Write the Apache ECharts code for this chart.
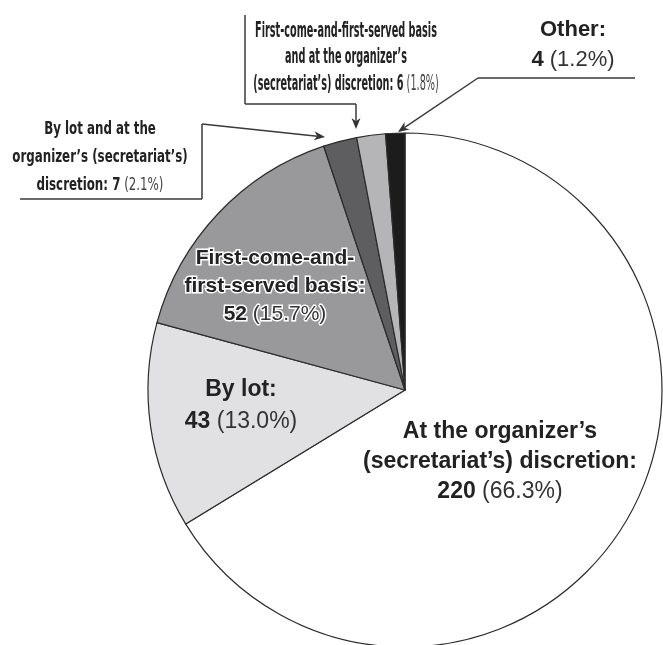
<!DOCTYPE html>
<html><head><meta charset="utf-8">
<script src="https://cdn.jsdelivr.net/npm/echarts@6/dist/echarts.min.js"></script>
<style>html,body{margin:0;padding:0;background:#fff}#c{width:663px;height:645px}</style>
</head><body><div id="c"></div>
<script>
// ---- data ----
const categories = [
  "At the organizer’s\n(secretariat’s) discretion:",
  "By lot:",
  "First-come-and-\nfirst-served basis:",
  "By lot and at the\norganizer’s (secretariat’s)\ndiscretion:",
  "First-come-and-first-served basis\nand at the organizer’s\n(secretariat’s) discretion:",
  "Other:"
];
const counts = [220, 43, 52, 7, 6, 4];

// ---- styling / layout (not data) ----
const sliceColors = ['#ffffff', '#e1e1e3', '#99999c', '#5e5e60', '#b5b5b7', '#1c1c1c'];
const labelCenters = [[500, 462], [241, 406], [275, 286], [100, 157], [346, 58], [573, 45]];
const labelSizes = [23, 23, 21, 0, 0, 22];
const labelLineHeights = [30, 32, 28, 0, 0, 30];
const calloutIdx = [3, 4];
const calloutScale = { 3: [0.94, 1.25, 22.4], 4: [0.77, 1.47, 18] };

const total = counts.reduce((a, b) => a + b, 0);
const pct = v => (v / total * 100).toFixed(1);
const FONT = '"Liberation Sans", Arial, sans-serif';
const NARROW = '"Liberation Sans Narrow", "DejaVu Sans Condensed", sans-serif';

function richFor(i) {
  const fs = labelSizes[i], lh = labelLineHeights[i];
  const halo = i === 2;
  return {
    b: { fontFamily: FONT, fontWeight: 'bold', fontSize: fs, lineHeight: lh, color: '#222',
         textBorderColor: halo ? '#fff' : 'transparent', textBorderWidth: halo ? 3 : 0 },
    p: { fontFamily: FONT, fontWeight: 'normal', fontSize: fs, lineHeight: lh, color: '#333',
         textBorderColor: halo ? '#fff' : 'transparent', textBorderWidth: halo ? 3 : 0 }
  };
}

const data = categories.map((name, i) => {
  const callout = calloutIdx.includes(i);
  return {
    name, value: counts[i],
    itemStyle: { color: sliceColors[i] },
    labelLine: { show: false },
    label: callout ? { show: false } : {
      show: true,
      formatter: () => name.split('\n').map(l => '{b|' + l + '}').join('\n') +
        '\n{b|' + counts[i] + '}{p| (' + pct(counts[i]) + '%)}',
      rich: richFor(i), align: 'center'
    }
  };
});

// callout texts (condensed), built from the data arrays
const graphics = [];
calloutIdx.forEach(i => {
  const [sx, sy, lh] = calloutScale[i];
  const lines = categories[i].split('\n');
  const txt = lines.map((l, k) => '{b|' + l + (k === lines.length - 1 ? ' ' + counts[i] : '') + '}' +
      (k === lines.length - 1 ? '{p| (' + pct(counts[i]) + '%)}' : '')).join('\n');
  graphics.push({
    type: 'text', x: labelCenters[i][0], y: labelCenters[i][1], scaleX: sx, scaleY: sy, z: 100,
    style: {
      text: txt, x: 0, y: 0, align: 'center', verticalAlign: 'middle',
      font: 'bold 14px ' + NARROW,
      rich: {
        b: { fontFamily: NARROW, fontWeight: 'bold', fontSize: 14, lineHeight: lh, fill: '#222' },
        p: { fontFamily: NARROW, fontWeight: 'normal', fontSize: 14, lineHeight: lh, fill: '#444' }
      }
    }
  });
});

function arrow(pts) {
  const [x1, y1] = pts[pts.length - 2], [x2, y2] = pts[pts.length - 1];
  const a = Math.atan2(y2 - y1, x2 - x1), L = 11, W = 4.5;
  const bx = x2 - L * Math.cos(a), by = y2 - L * Math.sin(a);
  const nx = -Math.sin(a), ny = Math.cos(a);
  const notch = [x2 - 0.7 * L * Math.cos(a), y2 - 0.7 * L * Math.sin(a)];
  const segs = pts.slice(0, -1).concat([notch]);
  const out = [];
  for (let k = 0; k < segs.length - 1; k++) {
    out.push({ type: 'line', z: 100, shape: { x1: segs[k][0], y1: segs[k][1], x2: segs[k + 1][0], y2: segs[k + 1][1] },
      style: { stroke: '#3a3a3a', lineWidth: 1.5, lineCap: 'butt' } });
  }
  out.push({ type: 'polygon', z: 100, shape: { points: [[x2, y2], [bx + nx * W, by + ny * W], notch, [bx - nx * W, by - ny * W]] }, style: { fill: '#333' } });
  return out;
}
// leader lines (annotations)
graphics.push(...arrow([[20, 199], [202, 199], [202, 124], [325, 137]]));
graphics.push(...arrow([[245, 15], [245, 104], [356, 104], [356, 129]]));
graphics.push(...arrow([[635, 78], [478, 78], [398, 132]]));

const chart = echarts.init(document.getElementById('c'), null, { renderer: 'canvas' });
chart.setOption({
  animation: false,
  backgroundColor: '#fff',
  series: [{
    type: 'pie',
    center: [405, 390],
    radius: 257,
    startAngle: 90,
    clockwise: true,
    silent: true,
    avoidLabelOverlap: false,
    itemStyle: { borderColor: '#2b2b2b', borderWidth: 1.2 },
    label: { position: 'inside' },
    labelLine: { show: false },
    labelLayout: p => ({ x: labelCenters[p.dataIndex][0], y: labelCenters[p.dataIndex][1], align: 'center', verticalAlign: 'middle' }),
    data
  }],
  graphic: graphics
});
</script>
</body></html>
